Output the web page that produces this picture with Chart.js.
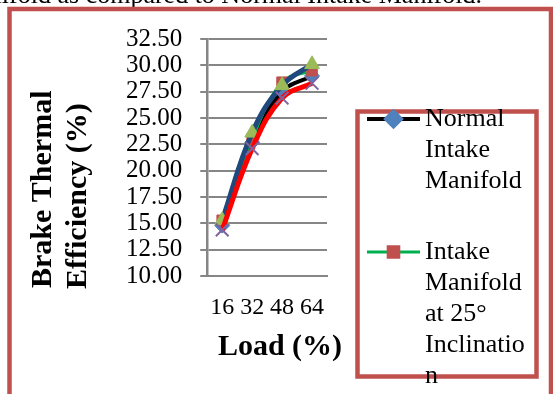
<!DOCTYPE html>
<html>
<head>
<meta charset="utf-8">
<script src="https://cdn.jsdelivr.net/npm/chart.js@4/dist/chart.umd.min.js"></script>
<style>
  html, body { margin: 0; padding: 0; background: #fff; }
  #wrap { width: 553px; height: 394px; position: relative; }
</style>
</head>
<body>
<div id="wrap"><canvas id="bte" width="553" height="394"></canvas></div>
<script>
// Brake thermal efficiency vs load
var loads = ['16', '32', '48', '64'];
var normalIM = [14.8, 22.7, 27.5, 29.0];
var incl25 = [15.3, 23.0, 28.4, 29.5];
var incl30 = [15.3, 23.6, 28.1, 30.1];
var incl35 = [14.4, 22.1, 26.9, 28.3];
var seriesNames = [
  'Normal Intake Manifold',
  'Intake Manifold at 25° Inclination',
  'Intake Manifold at 30° Inclination',
  'Intake Manifold at 35° Inclination'
];
var yMin = 10, yMax = 32.5, yStep = 2.5;

var SERIF = "'Liberation Serif', 'Times New Roman', serif";
var frameRed = '#C0504D';

function wrapText(ctx, text, maxW) {
  var out = [], line = '';
  text.split(' ').forEach(function (w) {
    var test = line ? line + ' ' + w : w;
    if (ctx.measureText(test).width <= maxW) { line = test; return; }
    if (line) out.push(line);
    line = '';
    // break long words by characters
    var part = '';
    for (var i = 0; i < w.length; i++) {
      if (ctx.measureText(part + w[i]).width > maxW && part) { out.push(part); part = ''; }
      part += w[i];
    }
    line = part;
  });
  if (line) out.push(line);
  return out;
}

var decorPlugin = {
  id: 'decor',
  afterDraw: function (chart) {
    var ctx = chart.ctx;
    ctx.save();

    // caption text cut off at the top
    ctx.fillStyle = '#000';
    ctx.font = '26px ' + SERIF;
    ctx.textAlign = 'right';
    ctx.textBaseline = 'alphabetic';
    ctx.fillText('Manifold as compared to Normal Intake Manifold.', 482, 3);

    // outer frame
    ctx.strokeStyle = frameRed;
    ctx.lineWidth = 4.5;
    ctx.strokeRect(9.5, 9, 541.5, 420);

    // y title
    ctx.font = 'bold 30px ' + SERIF;
    ctx.textAlign = 'left';
    ctx.textBaseline = 'middle';
    ctx.save();
    ctx.translate(43, 288);
    ctx.rotate(-Math.PI / 2);
    ctx.fillText('Brake Thermal', 0, 0);
    ctx.fillText('Efficiency (%)', -1, 35);
    ctx.restore();

    // x title
    ctx.textAlign = 'center';
    ctx.textBaseline = 'alphabetic';
    ctx.fillText('Load (%)', 280, 355);

    // legend box
    ctx.strokeStyle = frameRed;
    ctx.lineWidth = 4.5;
    ctx.strokeRect(357.5, 111.5, 179, 265);

    ctx.font = '26px ' + SERIF;
    ctx.textAlign = 'left';
    ctx.textBaseline = 'middle';
    var y = 119;
    chart.data.datasets.forEach(function (ds) {
      var lines = wrapText(ctx, ds.label, 110);
      ctx.strokeStyle = ds.borderColor;
      ctx.lineWidth = ds.borderWidth;
      ctx.beginPath();
      ctx.moveTo(367, y);
      ctx.lineTo(420, y);
      ctx.stroke();
      ctx.fillStyle = ds.pointBackgroundColor;
      ctx.strokeStyle = ds.pointBorderColor;
      Chart.helpers.drawPoint(ctx, {
        pointStyle: ds.pointStyle, radius: ds.pointRadius,
        borderWidth: ds.pointBorderWidth, rotation: 0
      }, 393.5, y);
      ctx.fillStyle = '#000';
      lines.forEach(function (t, i) {
        ctx.fillText(t, 425, y + i * 31);
      });
      y += lines.length * 31 + 40;
    });
    ctx.restore();
  }
};

function series(label, data, line, lw, mark, style, r, order) {
  return {
    label: label,
    data: data,
    borderColor: line,
    borderWidth: lw,
    tension: 0.4,
    pointStyle: style,
    pointRadius: r,
    pointBackgroundColor: mark,
    pointBorderColor: mark,
    pointBorderWidth: style === 'crossRot' ? 2 : 1,
    order: order
  };
}

var ctx = document.getElementById('bte').getContext('2d');
var chartBte = new Chart(ctx, {
  type: 'line',
  data: {
    labels: loads,
    datasets: [
      series(seriesNames[0], normalIM, '#000000', 4, '#4F81BD', 'rectRot', 7.5, 4),
      series(seriesNames[1], incl25, '#00B050', 3, '#C0504D', 'rect', 7.5, 3),
      series(seriesNames[2], incl30, '#1F497D', 5, '#9BBB59', 'triangle', 8.5, 2),
      series(seriesNames[3], incl35, '#FF0000', 5, '#8064A2', 'crossRot', 9, 1)
    ]
  },
  options: {
    responsive: false,
    animation: false,
    events: [],
    // tick padding is counted twice by chart.js when it fits the axes
    layout: { padding: { left: 108, right: 226, top: 39, bottom: 55 } },
    plugins: {
      legend: { display: false },
      tooltip: { enabled: false }
    },
    scales: {
      x: {
        offset: true,
        grid: { display: false, drawTicks: false },
        border: { display: true, color: '#868686', width: 2 },
        ticks: {
          color: '#000',
          font: { family: SERIF, size: 24 },
          padding: 17,
          maxRotation: 0,
          autoSkip: false
        }
      },
      y: {
        min: yMin,
        max: yMax,
        grid: { color: '#868686', lineWidth: 2, tickLength: 7 },
        border: { color: '#868686', width: 2.5 },
        ticks: {
          stepSize: yStep,
          autoSkip: false,
          color: '#000',
          font: { family: SERIF, size: 25 },
          padding: 18,
          callback: function (v) { return v.toFixed(2); }
        }
      }
    }
  },
  plugins: [decorPlugin]
});
</script>
</body>
</html>
